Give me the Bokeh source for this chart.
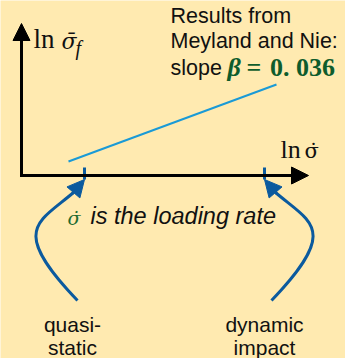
from bokeh.plotting import figure
from bokeh.models import Range1d, Arrow, NormalHead
from bokeh.core.properties import value
from bokeh.embed import file_html
from bokeh.resources import INLINE

# Schematic: ln(strength) against ln(loading rate), in page-like units (y grows downward)
BG = "#FFEAB0"
AXIS_BLUE = "#0B5A9E"
TREND_BLUE = "#1A9AD6"
GREEN = "#0E5C2C"
INK = "#111111"

W, H = 345, 358

# axis frame
origin = (21, 175)
y_axis_tip = 23
x_axis_tip = 308

# the two loading-rate regimes marked on the rate axis
regime_x = [84, 264]
label_x = [72, 264]
regime_labels = [["quasi-", "static"], ["dynamic", "impact"]]

# trend of ln(strength) with ln(rate), slope beta = 0.036
trend_x = [68, 276]
trend_y = [161, 84]
slope_beta = 0.036

note_lines = ["Results from", "Meyland and Nie:", "slope"]

p = figure(title=None, frame_width=W, frame_height=H, output_backend="svg",
           toolbar_location=None,
           x_range=Range1d(0, W), y_range=Range1d(H, 0),
           min_border=0, background_fill_color=BG, border_fill_color=BG,
           outline_line_color=None)
p.axis.visible = False
p.grid.visible = False

# font descent (fraction of the em) used to place text by its baseline
DESCENT = {"Liberation Sans": 0.212, "Liberation Serif": 0.216, "DejaVu Serif": 0.236}


def put_text(xs, baselines, texts, font, size, style="normal", color=INK, align="left"):
    """Draw texts so that their alphabetic baseline sits at the given y."""
    off = DESCENT[font] * size
    p.text(x=xs, y=[b + off for b in baselines], text=texts,
           text_font=value(font), text_font_size=f"{size}px",
           text_font_style=style, text_color=color,
           text_align=align, text_baseline="bottom")


# axes with arrowheads
p.add_layout(Arrow(x_start=origin[0], y_start=origin[1] + 1.5, x_end=origin[0], y_end=y_axis_tip,
                   line_width=3, line_color="black",
                   end=NormalHead(size=17, fill_color="black", line_color="black")))
p.add_layout(Arrow(x_start=origin[0] - 1.5, y_start=origin[1], x_end=x_axis_tip, y_end=origin[1],
                   line_width=3, line_color="black",
                   end=NormalHead(size=17, fill_color="black", line_color="black")))

# regime ticks on the rate axis
p.segment(x0=regime_x, y0=[origin[1] - 8] * 2, x1=regime_x, y1=[origin[1] + 4] * 2,
          line_width=3, line_color=AXIS_BLUE)

# trend line
p.line(trend_x, trend_y, line_width=2, line_color=TREND_BLUE)

# curved pointers from the regime labels up to the ticks (mirror images about the middle)
mid = sum(regime_x) / 2
for sgn, tx in zip((-1, 1), regime_x):
    def mx(d):
        return mid + sgn * d
    p.bezier(x0=[mx(97)], y0=[300], x1=[mx(101)], y1=[192],
             cx0=[mx(166)], cy0=[228], cx1=[mx(136)], cy1=[222],
             line_width=3, line_color=AXIS_BLUE)
    p.add_layout(Arrow(x_start=mx(102), y_start=193, x_end=tx, y_end=origin[1] + 4,
                       line_width=3, line_color=AXIS_BLUE,
                       end=NormalHead(size=17, fill_color=AXIS_BLUE, line_color=AXIS_BLUE)))

# regime labels
put_text([label_x[0], label_x[0], label_x[1], label_x[1]], [331, 354, 331, 354],
         [regime_labels[0][0], regime_labels[0][1], regime_labels[1][0], regime_labels[1][1]],
         "Liberation Sans", 21, align="center")

# note text
put_text([170] * 3, [22.5, 48, 75], note_lines, "Liberation Sans", 21.5)
put_text([227], [76], ["β"], "Liberation Serif", 26, style="bold italic", color=GREEN)
put_text([246], [76], [f"=\u2004{slope_beta:.3f}".replace(".", ". ")],
         "Liberation Serif", 26, style="bold", color=GREEN)

# axis titles
put_text([33], [48], ["ln"], "Liberation Serif", 27)
put_text([61], [48], ["σ\u0304"], "DejaVu Serif", 22, style="italic")
put_text([75], [54], ["f"], "Liberation Serif", 20, style="italic")
put_text([280], [158], ["ln"], "Liberation Serif", 26)
put_text([304], [158], ["σ\u0307"], "DejaVu Serif", 21)

# caption
put_text([67], [224], ["σ\u0307"], "DejaVu Serif", 19, style="italic", color="#1E6B30")
put_text([90], [224], ["is the loading rate"], "Liberation Sans", 23.5, style="italic")

open("out.html", "w").write(file_html(p, INLINE))
